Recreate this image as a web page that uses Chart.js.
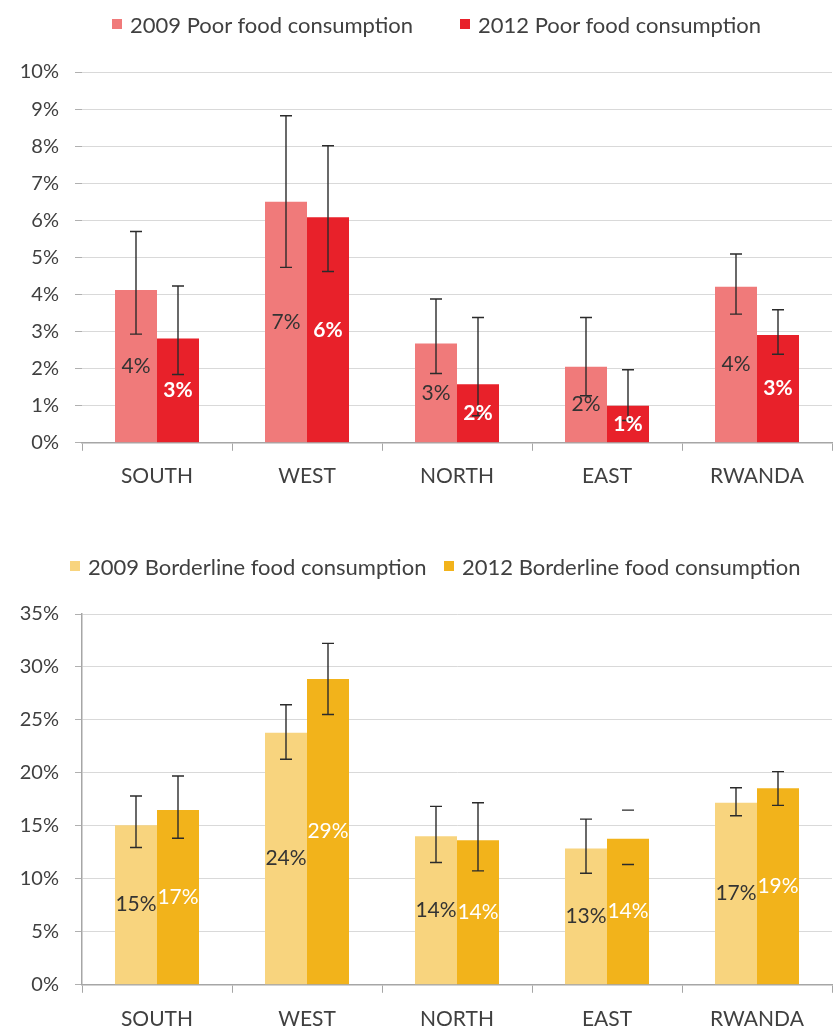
<!DOCTYPE html>
<html>
<head>
<meta charset="utf-8">
<script src="https://cdn.jsdelivr.net/npm/chart.js@4.4.1/dist/chart.umd.min.js"></script>
<style>
  html, body { margin: 0; padding: 0; background: #fff; }
  body { width: 840px; height: 1032px; position: relative; overflow: hidden; font-family: Lato, "Open Sans", sans-serif; }
  canvas { position: absolute; left: 0; }
  #c1 { top: 0; }
  #c2 { top: 530px; }
  .legend { position: absolute; left: 0; width: 840px; height: 24px; }
  .item { position: absolute; top: 0; height: 24px; display: flex; align-items: center; font-size: 22px; color: #404040; white-space: nowrap; }
  .box { width: 10px; height: 10px; margin-right: 8px; flex: none; }
</style>
</head>
<body>
<canvas id="c1" width="840" height="506"></canvas>
<canvas id="c2" width="840" height="517"></canvas>
<div class="legend" id="lg1" style="top:12px"></div>
<div class="legend" id="lg2" style="top:554px"></div>
<script>
// ---------- DATA ----------
const categories = ['SOUTH', 'WEST', 'NORTH', 'EAST', 'RWANDA'];

const poorLabels = ['2009 Poor food consumption', '2012 Poor food consumption'];
const poor2009 = [4.12, 6.50, 2.68, 2.05, 4.21];
const poor2012 = [2.81, 6.08, 1.58, 1.00, 2.91];
const poor2009Low  = [2.93, 4.73, 1.87, 1.27, 3.47];
const poor2009High = [5.70, 8.82, 3.88, 3.38, 5.09];
const poor2012Low  = [1.84, 4.62, 0.73, 0.60, 2.39];
const poor2012High = [4.23, 8.01, 3.38, 1.97, 3.59];
const poorTicks = [0, 10, 1];

const borderLabels = ['2009 Borderline food consumption', '2012 Borderline food consumption'];
const border2009 = [15.07, 23.78, 14.03, 12.87, 17.19];
const border2012 = [16.50, 28.86, 13.65, 13.78, 18.55];
const border2009Low  = [12.96, 21.29, 11.54, 10.53, 15.96];
const border2009High = [17.82, 26.43, 16.84, 15.64, 18.60];
const border2012Low  = [13.84, 25.51, 10.75, 11.35, 16.94];
const border2012High = [19.71, 32.23, 17.19, 16.49, 20.12];
const borderTicks = [0, 35, 5];

// ---------- PLUGIN: error bars + value labels ----------
const errAndLabels = {
  id: 'errAndLabels',
  afterDatasetsDraw(chart, args, opts) {
    const ctx = chart.ctx;
    const y = chart.scales.y;
    chart.data.datasets.forEach((ds, di) => {
      const meta = chart.getDatasetMeta(di);
      meta.data.forEach((bar, i) => {
        const lo = ds.errLow[i], hi = ds.errHigh[i];
        const x = bar.x;
        const yl = y.getPixelForValue(lo), yh = y.getPixelForValue(hi);
        const hide = (opts.hideStem || []).some(p => p[0] === di && p[1] === i);
        ctx.save();
        ctx.strokeStyle = '#2b2b2b';
        ctx.lineWidth = 1.4;
        ctx.beginPath();
        if (!hide) { ctx.moveTo(x, yl); ctx.lineTo(x, yh); }
        ctx.moveTo(x - 6, yl); ctx.lineTo(x + 6, yl);
        ctx.moveTo(x - 6, yh); ctx.lineTo(x + 6, yh);
        ctx.stroke();
        ctx.restore();
      });
    });
    chart.data.datasets.forEach((ds, di) => {
      const meta = chart.getDatasetMeta(di);
      meta.data.forEach((bar, i) => {
        const v = ds.data[i];
        ctx.save();
        ctx.font = (ds.labelBold ? 'bold ' : '') + '21px Lato, "Open Sans", sans-serif';
        ctx.fillStyle = ds.labelColor;
        ctx.textAlign = 'center';
        ctx.textBaseline = 'middle';
        ctx.fillText(Math.round(v) + '%', bar.x, (bar.y + bar.base) / 2);
        ctx.restore();
      });
    });
  }
};

function makeChart(id, labels, vals, lows, highs, colors, labelColors, bold, ticks, pad, xPad, yBorder, hideStem, legendId, legendPos) {
  const datasets = vals.map((v, k) => ({
    label: labels[k],
    data: v,
    errLow: lows[k],
    errHigh: highs[k],
    backgroundColor: colors[k],
    labelColor: labelColors[k],
    labelBold: bold[k],
    borderWidth: 0,
    categoryPercentage: 0.56,
    barPercentage: 1.0
  }));
  const chart = new Chart(document.getElementById(id), {
    type: 'bar',
    data: { labels: categories, datasets },
    options: {
      responsive: false,
      animation: false,
      layout: { padding: pad },
      plugins: {
        legend: { display: false },
        tooltip: { enabled: false },
        errAndLabels: { hideStem }
      },
      scales: {
        x: {
          offset: true,
          grid: { display: true, drawOnChartArea: false, drawTicks: true, tickLength: 8, color: '#a6a6a6', lineWidth: 1 },
          border: { display: true, color: '#a6a6a6', width: 1.5 },
          ticks: { color: '#404040', font: { family: 'Lato', size: 21 }, padding: xPad }
        },
        y: {
          min: ticks[0], max: ticks[1],
          afterFit(scale) { scale.width = 82; },
          grid: { color: '#d9d9d9', lineWidth: 1, tickLength: 7, tickColor: '#b0b0b0' },
          border: { display: yBorder, color: '#a6a6a6', width: 1.5 },
          ticks: { stepSize: ticks[2], color: '#404040', font: { family: 'Lato', size: 20 }, padding: 16,
                   callback: v => v + '%' }
        }
      }
    },
    plugins: [errAndLabels]
  });
  // HTML legend built from the chart's datasets
  const lg = document.getElementById(legendId);
  chart.data.datasets.forEach((ds, k) => {
    const it = document.createElement('div');
    it.className = 'item';
    it.style.left = legendPos[k] + 'px';
    const b = document.createElement('span');
    b.className = 'box';
    b.style.background = ds.backgroundColor;
    const t = document.createElement('span');
    t.textContent = ds.label;
    it.appendChild(b); it.appendChild(t);
    lg.appendChild(it);
  });
  return chart;
}

makeChart('c1', poorLabels, [poor2009, poor2012], [poor2009Low, poor2012Low], [poor2009High, poor2012High],
  ['#f07a7a', '#e8212a'], ['#333333', '#ffffff'], [false, true], poorTicks,
  { top: 72, right: 8, bottom: 4, left: 0 }, 13, false, [], 'lg1', [112, 460]);

makeChart('c2', borderLabels, [border2009, border2012], [border2009Low, border2012Low], [border2009High, border2012High],
  ['#f8d47e', '#f2b31b'], ['#333333', '#ffffff'], [false, false], borderTicks,
  { top: 84, right: 8, bottom: 1, left: 0 }, 14, true, [[1, 3]], 'lg2', [70, 444]);
</script>
</body>
</html>
